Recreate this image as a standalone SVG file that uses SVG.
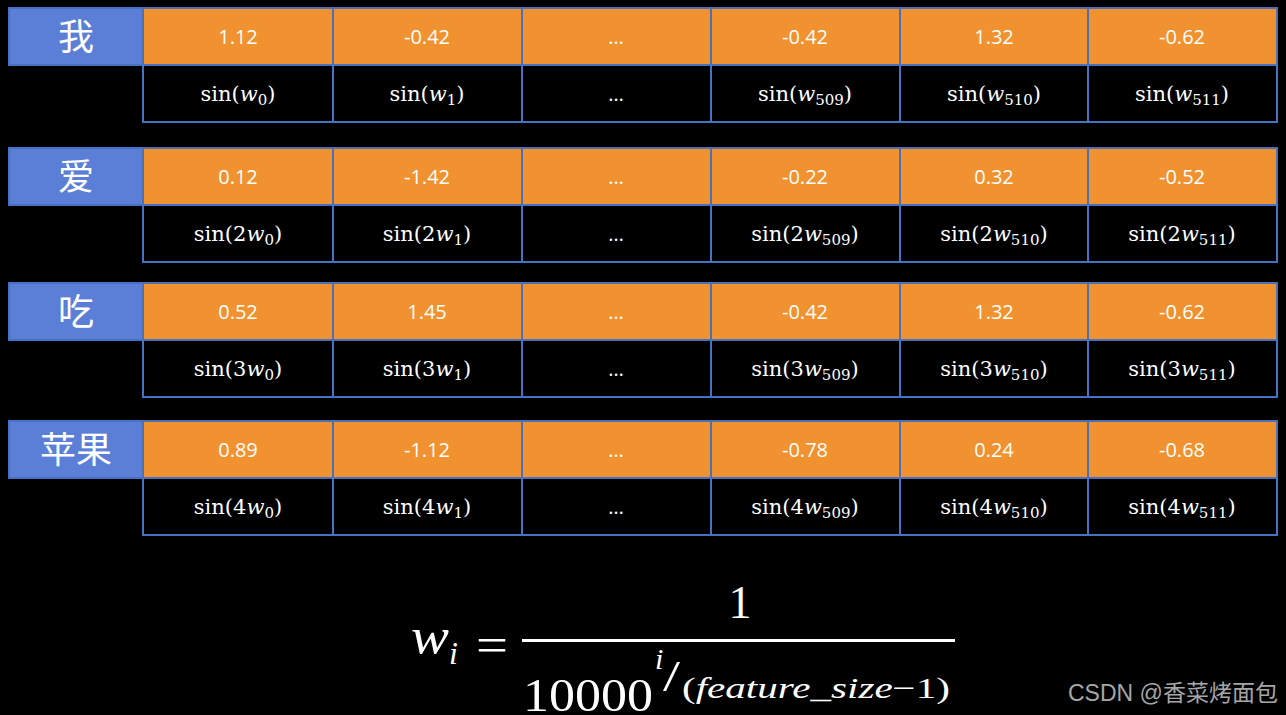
<svg xmlns="http://www.w3.org/2000/svg" width="1286" height="715" viewBox="0 0 1286 715">
<style>
.bg{fill:#000}
.lab{fill:#5B7FD6;stroke:#4472C4;stroke-width:2}
.or{fill:#F0922F;stroke:#4f6fb5;stroke-width:2}
.bk{fill:#000;stroke:#4472C4;stroke-width:2}
.cn{font-family:"Noto Sans CJK SC",sans-serif;font-size:36px;fill:#fff;text-anchor:middle}
.num{font-family:"Open Sans","Noto Sans",sans-serif;font-size:20px;fill:#fff;text-anchor:middle}
.m{font-family:"DejaVu Serif","Liberation Serif",serif;font-size:21px;fill:#fff;text-anchor:middle}
.it{font-style:italic}
.sb{font-size:15px}
.f{font-family:"Liberation Serif","DejaVu Serif",serif;fill:#fff}
.wm{font-family:"Liberation Sans","Noto Sans CJK SC",sans-serif;font-size:23px;fill:#a6a6a6}
</style>
<rect class="bg" x="0" y="0" width="1286" height="715"/>

<g id="row-wo">
<rect class="lab" x="9" y="8" width="134" height="57"/>
<text class="cn" x="76" y="50">我</text>
<rect class="or" x="143" y="8" width="190" height="57"/><rect class="or" x="333" y="8" width="189" height="57"/><rect class="or" x="522" y="8" width="189" height="57"/><rect class="or" x="711" y="8" width="189" height="57"/><rect class="or" x="900" y="8" width="188" height="57"/><rect class="or" x="1088" y="8" width="189" height="57"/>
<text class="num" x="238" y="44">1.12</text><text class="num" x="427" y="44">-0.42</text><text class="num" x="616" y="44">…</text><text class="num" x="805" y="44">-0.42</text><text class="num" x="994" y="44">1.32</text><text class="num" x="1182" y="44">-0.62</text>
<rect class="bk" x="143" y="65" width="190" height="57"/><rect class="bk" x="333" y="65" width="189" height="57"/><rect class="bk" x="522" y="65" width="189" height="57"/><rect class="bk" x="711" y="65" width="189" height="57"/><rect class="bk" x="900" y="65" width="188" height="57"/><rect class="bk" x="1088" y="65" width="189" height="57"/>
<text class="m" x="238" y="101">sin(<tspan class="it">w</tspan><tspan class="sb" dy="4">0</tspan><tspan dy="-4">)</tspan></text>
<text class="m" x="427" y="101">sin(<tspan class="it">w</tspan><tspan class="sb" dy="4">1</tspan><tspan dy="-4">)</tspan></text>
<text class="num" x="616" y="101">…</text>
<text class="m" x="805" y="101">sin(<tspan class="it">w</tspan><tspan class="sb" dy="4">509</tspan><tspan dy="-4">)</tspan></text>
<text class="m" x="994" y="101">sin(<tspan class="it">w</tspan><tspan class="sb" dy="4">510</tspan><tspan dy="-4">)</tspan></text>
<text class="m" x="1182" y="101">sin(<tspan class="it">w</tspan><tspan class="sb" dy="4">511</tspan><tspan dy="-4">)</tspan></text>
</g>

<g id="row-ai">
<rect class="lab" x="9" y="148" width="134" height="57"/>
<text class="cn" x="76" y="190">爱</text>
<rect class="or" x="143" y="148" width="190" height="57"/><rect class="or" x="333" y="148" width="189" height="57"/><rect class="or" x="522" y="148" width="189" height="57"/><rect class="or" x="711" y="148" width="189" height="57"/><rect class="or" x="900" y="148" width="188" height="57"/><rect class="or" x="1088" y="148" width="189" height="57"/>
<text class="num" x="238" y="184">0.12</text><text class="num" x="427" y="184">-1.42</text><text class="num" x="616" y="184">…</text><text class="num" x="805" y="184">-0.22</text><text class="num" x="994" y="184">0.32</text><text class="num" x="1182" y="184">-0.52</text>
<rect class="bk" x="143" y="205" width="190" height="57"/><rect class="bk" x="333" y="205" width="189" height="57"/><rect class="bk" x="522" y="205" width="189" height="57"/><rect class="bk" x="711" y="205" width="189" height="57"/><rect class="bk" x="900" y="205" width="188" height="57"/><rect class="bk" x="1088" y="205" width="189" height="57"/>
<text class="m" x="238" y="241">sin(2<tspan class="it">w</tspan><tspan class="sb" dy="4">0</tspan><tspan dy="-4">)</tspan></text>
<text class="m" x="427" y="241">sin(2<tspan class="it">w</tspan><tspan class="sb" dy="4">1</tspan><tspan dy="-4">)</tspan></text>
<text class="num" x="616" y="241">…</text>
<text class="m" x="805" y="241">sin(2<tspan class="it">w</tspan><tspan class="sb" dy="4">509</tspan><tspan dy="-4">)</tspan></text>
<text class="m" x="994" y="241">sin(2<tspan class="it">w</tspan><tspan class="sb" dy="4">510</tspan><tspan dy="-4">)</tspan></text>
<text class="m" x="1182" y="241">sin(2<tspan class="it">w</tspan><tspan class="sb" dy="4">511</tspan><tspan dy="-4">)</tspan></text>
</g>

<g id="row-chi">
<rect class="lab" x="9" y="283" width="134" height="57"/>
<text class="cn" x="76" y="325">吃</text>
<rect class="or" x="143" y="283" width="190" height="57"/><rect class="or" x="333" y="283" width="189" height="57"/><rect class="or" x="522" y="283" width="189" height="57"/><rect class="or" x="711" y="283" width="189" height="57"/><rect class="or" x="900" y="283" width="188" height="57"/><rect class="or" x="1088" y="283" width="189" height="57"/>
<text class="num" x="238" y="319">0.52</text><text class="num" x="427" y="319">1.45</text><text class="num" x="616" y="319">…</text><text class="num" x="805" y="319">-0.42</text><text class="num" x="994" y="319">1.32</text><text class="num" x="1182" y="319">-0.62</text>
<rect class="bk" x="143" y="340" width="190" height="57"/><rect class="bk" x="333" y="340" width="189" height="57"/><rect class="bk" x="522" y="340" width="189" height="57"/><rect class="bk" x="711" y="340" width="189" height="57"/><rect class="bk" x="900" y="340" width="188" height="57"/><rect class="bk" x="1088" y="340" width="189" height="57"/>
<text class="m" x="238" y="376">sin(3<tspan class="it">w</tspan><tspan class="sb" dy="4">0</tspan><tspan dy="-4">)</tspan></text>
<text class="m" x="427" y="376">sin(3<tspan class="it">w</tspan><tspan class="sb" dy="4">1</tspan><tspan dy="-4">)</tspan></text>
<text class="num" x="616" y="376">…</text>
<text class="m" x="805" y="376">sin(3<tspan class="it">w</tspan><tspan class="sb" dy="4">509</tspan><tspan dy="-4">)</tspan></text>
<text class="m" x="994" y="376">sin(3<tspan class="it">w</tspan><tspan class="sb" dy="4">510</tspan><tspan dy="-4">)</tspan></text>
<text class="m" x="1182" y="376">sin(3<tspan class="it">w</tspan><tspan class="sb" dy="4">511</tspan><tspan dy="-4">)</tspan></text>
</g>

<g id="row-pingguo">
<rect class="lab" x="9" y="421" width="134" height="57"/>
<text class="cn" x="76" y="463">苹果</text>
<rect class="or" x="143" y="421" width="190" height="57"/><rect class="or" x="333" y="421" width="189" height="57"/><rect class="or" x="522" y="421" width="189" height="57"/><rect class="or" x="711" y="421" width="189" height="57"/><rect class="or" x="900" y="421" width="188" height="57"/><rect class="or" x="1088" y="421" width="189" height="57"/>
<text class="num" x="238" y="457">0.89</text><text class="num" x="427" y="457">-1.12</text><text class="num" x="616" y="457">…</text><text class="num" x="805" y="457">-0.78</text><text class="num" x="994" y="457">0.24</text><text class="num" x="1182" y="457">-0.68</text>
<rect class="bk" x="143" y="478" width="190" height="57"/><rect class="bk" x="333" y="478" width="189" height="57"/><rect class="bk" x="522" y="478" width="189" height="57"/><rect class="bk" x="711" y="478" width="189" height="57"/><rect class="bk" x="900" y="478" width="188" height="57"/><rect class="bk" x="1088" y="478" width="189" height="57"/>
<text class="m" x="238" y="514">sin(4<tspan class="it">w</tspan><tspan class="sb" dy="4">0</tspan><tspan dy="-4">)</tspan></text>
<text class="m" x="427" y="514">sin(4<tspan class="it">w</tspan><tspan class="sb" dy="4">1</tspan><tspan dy="-4">)</tspan></text>
<text class="num" x="616" y="514">…</text>
<text class="m" x="805" y="514">sin(4<tspan class="it">w</tspan><tspan class="sb" dy="4">509</tspan><tspan dy="-4">)</tspan></text>
<text class="m" x="994" y="514">sin(4<tspan class="it">w</tspan><tspan class="sb" dy="4">510</tspan><tspan dy="-4">)</tspan></text>
<text class="m" x="1182" y="514">sin(4<tspan class="it">w</tspan><tspan class="sb" dy="4">511</tspan><tspan dy="-4">)</tspan></text>
</g>

<g id="formula">
<text class="f it" x="411" y="653" font-size="50" textLength="38" lengthAdjust="spacingAndGlyphs">w</text>
<text class="f it" x="449" y="664" font-size="32">i</text>
<text class="f" x="476" y="662" font-size="50" textLength="32" lengthAdjust="spacingAndGlyphs">=</text>
<rect x="522" y="639" width="433" height="3" fill="#fff"/>
<text class="f" x="740" y="618" font-size="46" text-anchor="middle">1</text>
<text class="f" x="523" y="711" font-size="47" textLength="130" lengthAdjust="spacingAndGlyphs">10000</text>
<text class="f it" x="655" y="669" font-size="30">i</text>
<text class="f" x="663" y="691" font-size="44" textLength="17" lengthAdjust="spacingAndGlyphs">/</text>
<text class="f" x="682" y="698" font-size="30" textLength="268" lengthAdjust="spacingAndGlyphs">(<tspan class="it">feature_size</tspan>−1)</text>
</g>

<text class="wm" x="1068" y="701">CSDN @香菜烤面包</text>
</svg>
